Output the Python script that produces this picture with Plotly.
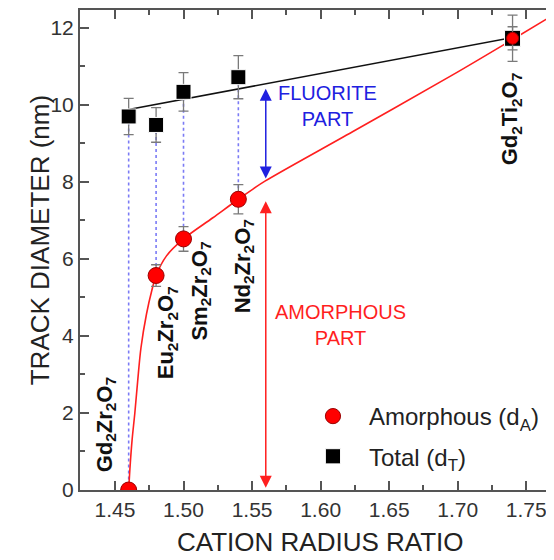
import plotly.graph_objects as go

# ---------------- data ----------------
compounds = ["Gd<sub>2</sub>Zr<sub>2</sub>O<sub>7</sub>", "Eu<sub>2</sub>Zr<sub>2</sub>O<sub>7</sub>",
             "Sm<sub>2</sub>Zr<sub>2</sub>O<sub>7</sub>", "Nd<sub>2</sub>Zr<sub>2</sub>O<sub>7</sub>",
             "Gd<sub>2</sub>Ti<sub>2</sub>O<sub>7</sub>"]
ratio = [1.46, 1.48, 1.50, 1.54, 1.74]
d_amorph = [0.0, 5.57, 6.52, 7.55, 11.73]
d_amorph_err = [0.0, 0.28, 0.32, 0.38, 0.3]
d_total = [9.70, 9.48, 10.34, 10.72, 11.73]
d_total_err = [0.47, 0.45, 0.5, 0.56, 0.6]

# fitted guide curves
fit_total_x = [1.46, 1.74]
fit_total_y = [9.88, 11.75]
fit_amorph_x = [1.4600, 1.4612, 1.4625, 1.4645, 1.4665, 1.4690, 1.4730, 1.4770, 1.4800, 1.4876,
                1.5000, 1.5214, 1.5400, 1.5509, 1.5594, 1.6236, 1.6963, 1.7400, 1.7746]
fit_amorph_y = [0.0, 0.70, 1.30, 2.00, 2.80, 3.70, 4.57, 5.20, 5.57, 6.08,
                6.52, 7.07, 7.55, 7.82, 8.02, 9.31, 10.78, 11.70, 12.44]

# label positions (centre of rotated labels)
label_x = [1.4435, 1.4878, 1.5125, 1.5437, 1.7395]
label_y = [1.68, 4.09, 5.17, 5.82, 9.65]

arrow_x = 1.56
fluorite_span = [8.05, 10.42]
amorph_span = [0.02, 7.5]

x_range = [1.4245, 1.7746]
y_range = [0, 12.465]
x_ticks = [1.45, 1.50, 1.55, 1.60, 1.65, 1.70, 1.75]
y_ticks = [0, 2, 4, 6, 8, 10, 12]

RED = "#ff1f1f"
BLUE = "#2020e0"
FONT = "Liberation Sans, Arial, sans-serif"

fig = go.Figure()

# dotted connectors between total and amorphous diameters
for i in range(4):
    fig.add_trace(go.Scatter(x=[ratio[i], ratio[i]], y=[d_total[i], d_amorph[i]], mode="lines",
                             line=dict(color="#7b7bf5", width=1.6, dash="dot"),
                             showlegend=False, hoverinfo="skip"))

fig.add_trace(go.Scatter(x=fit_total_x, y=fit_total_y, mode="lines",
                         line=dict(color="#111111", width=1.6), showlegend=False, hoverinfo="skip"))
fig.add_trace(go.Scatter(x=fit_amorph_x, y=fit_amorph_y, mode="lines", line_shape="spline",
                         line=dict(color=RED, width=1.6), showlegend=False, hoverinfo="skip"))

fig.add_trace(go.Scatter(x=ratio, y=d_total, mode="markers", name="Total (d<sub>T</sub>)",
                         legendgroup="t", legendrank=2,
                         marker=dict(symbol="square", size=[15, 15, 15, 15, 16], color="#000000",
                                     opacity=1),
                         error_y=dict(type="data", array=d_total_err, color="#7a7a7a",
                                      thickness=1.3, width=5)))
fig.add_trace(go.Scatter(x=ratio, y=d_amorph, mode="markers", name="Amorphous (d<sub>A</sub>)",
                         legendgroup="a", legendrank=1,
                         marker=dict(symbol="circle", size=[16, 16, 16, 16, 12], color="#ff0000",
                                     opacity=1, line=dict(color="#9a0000", width=1)),
                         error_y=dict(type="data", array=d_amorph_err, color="#7a7a7a",
                                      thickness=1.3, width=5)))

# double arrows
for span, col in [(fluorite_span, BLUE), (amorph_span, RED)]:
    fig.add_annotation(x=arrow_x, y=span[1], ax=arrow_x, ay=span[0], xref="x", yref="y",
                       axref="x", ayref="y", text="", showarrow=True, arrowhead=2,
                       arrowside="end+start", arrowsize=1.6, arrowwidth=1.5, arrowcolor=col)

fig.add_annotation(x=1.6047, y=9.96, text="FLUORITE<br>PART", showarrow=False,
                   font=dict(family=FONT, size=20, color=BLUE))
fig.add_annotation(x=1.6142, y=4.28, text="AMORPHOUS<br>PART", showarrow=False,
                   font=dict(family=FONT, size=20, color=RED))

for lx, ly, t in zip(label_x, label_y, compounds):
    fig.add_annotation(x=lx, y=ly, text="<b>" + t + "</b>", textangle=-90, showarrow=False,
                       font=dict(family=FONT, size=22, color="#111111"))

# axis titles
fig.add_annotation(x=-0.118, y=0.521, xref="paper", yref="paper", text="TRACK DIAMETER (nm)",
                   textangle=-90, showarrow=False, font=dict(family=FONT, size=26, color="#222222"))
fig.add_annotation(x=0.5, y=-0.108, xref="paper", yref="paper", text="CATION RADIUS RATIO",
                   showarrow=False, yanchor="middle", font=dict(family=FONT, size=26, color="#222222"))

axis_common = dict(showline=True, linecolor="#555555", linewidth=2, mirror="allticks",
                   ticks="inside", ticklen=9, tickwidth=1.5, tickcolor="#555555",
                   showgrid=False, zeroline=False,
                   tickfont=dict(family=FONT, size=21, color="#333333"))
fig.update_xaxes(range=x_range, tickvals=x_ticks, ticktext=[f"{v:.2f}" for v in x_ticks],
                 minor=dict(ticks="inside", ticklen=5, dtick=0.025, tick0=1.45,
                            tickcolor="#555555", tickwidth=1.5),
                 **axis_common)
fig.update_yaxes(range=y_range, tickvals=y_ticks,
                 minor=dict(ticks="inside", ticklen=5, dtick=1, tick0=0,
                            tickcolor="#555555", tickwidth=1.5),
                 **axis_common)

fig.update_layout(width=554, height=560, margin=dict(l=72, r=0, t=0, b=78),
                  plot_bgcolor="white", paper_bgcolor="white",
                  showlegend=True,
                  legend=dict(x=0.452, y=0.2, xanchor="left", yanchor="top",
                              bgcolor="rgba(0,0,0,0)", itemwidth=62, tracegroupgap=6,
                              font=dict(family=FONT, size=24, color="#222222")))

fig.write_html("out.html")
